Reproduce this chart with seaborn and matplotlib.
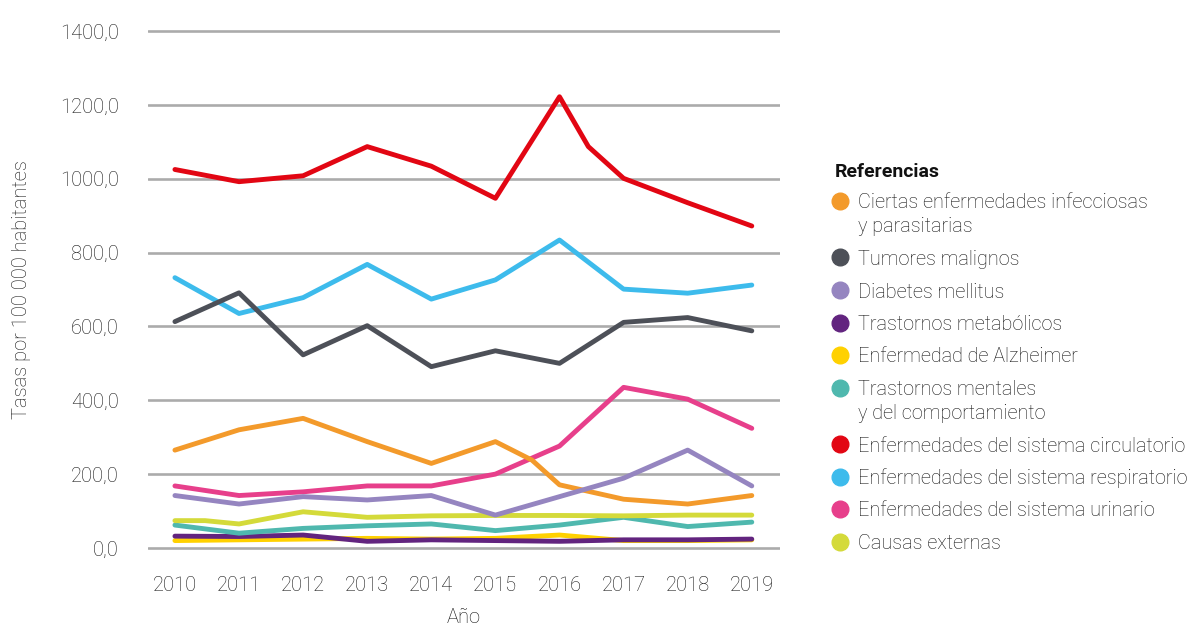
import matplotlib
matplotlib.use("Agg")
import matplotlib.pyplot as plt
import seaborn as sns
import pandas as pd

# ---------------- data ----------------
years = [2010, 2011, 2012, 2013, 2014, 2015, 2016, 2017, 2018, 2019]

series_names = [
    "Ciertas enfermedades infecciosas\ny parasitarias",
    "Tumores malignos",
    "Diabetes mellitus",
    "Trastornos metabólicos",
    "Enfermedad de Alzheimer",
    "Trastornos mentales\ny del comportamiento",
    "Enfermedades del sistema circulatorio",
    "Enfermedades del sistema respiratorio",
    "Enfermedades del sistema urinario",
    "Causas externas",
]

infecciosas = [265, 320, 351, 288, 229, 288, 171, 132, 119, 142]
tumores = [613, 691, 523, 602, 491, 534, 500, 611, 624, 588]
diabetes = [142, 119, 139, 130, 142, 89, 139, 189, 265, 168]
metabolicos = [32, 31, 35, 18, 22, 20, 18, 22, 22, 24]
alzheimer = [20, 22, 24, 26, 24, 26, 35, 20, 20, 22]
mentales = [62, 40, 53, 60, 65, 47, 62, 83, 58, 70]
circulatorio = [1025, 992, 1008, 1087, 1034, 947, 1222, 1001, 935, 872]
respiratorio = [732, 635, 678, 768, 674, 726, 834, 701, 690, 712]
urinario = [168, 142, 152, 168, 168, 200, 276, 435, 403, 324]
externas = [74, 65, 98, 83, 87, 88, 88, 87, 89, 89]

# intermediate vertices visible in the original lines
knot_series = [0, 6, 9]
knot_years = [2015.57, 2016.45, 2010.47]
knot_values = [238, 1087, 74]

colors = ["#F39A2B", "#4D5058", "#9585C0", "#62247F", "#FFD100",
          "#4FB8AE", "#E20613", "#3DBBEC", "#E73F8B", "#D4DA3A"]

y_ticks = [0, 200, 400, 600, 800, 1000, 1200, 1400]

# ---------------- table ----------------
all_values = [infecciosas, tumores, diabetes, metabolicos, alzheimer,
              mentales, circulatorio, respiratorio, urinario, externas]
rows = []
for name, vals in zip(series_names, all_values):
    for yr, v in zip(years, vals):
        rows.append({"Año": yr, "Tasa": v, "Serie": name})
for i, yr, v in zip(knot_series, knot_years, knot_values):
    rows.append({"Año": yr, "Tasa": v, "Serie": series_names[i]})
df = pd.DataFrame(rows).sort_values(["Serie", "Año"])

palette = dict(zip(series_names, colors))
draw_order = [series_names[i] for i in [4, 3, 5, 9, 8, 0, 2, 7, 1, 6]]

# ---------------- figure ----------------
sns.set_theme(style="white")
plt.rcParams["font.family"] = ["Roboto", "DejaVu Sans"]

W, H = 1202, 625
fig = plt.figure(figsize=(W / 100, H / 100), dpi=100)
ax_left, ax_right = 148, 780
ax_top, ax_bottom = 25.5, 553.5
ax = fig.add_axes([ax_left / W, 1 - ax_bottom / H,
                   (ax_right - ax_left) / W, (ax_bottom - ax_top) / H])

sns.lineplot(data=df, x="Año", y="Tasa", hue="Serie", hue_order=draw_order,
             palette=palette, estimator=None, sort=True, linewidth=3.5,
             legend=False, ax=ax, zorder=3)

ax.set_xlim(2009.58, 2019.44)
ax.set_ylim(-15, 1415)
ax.set_xticks(years)
ax.set_xticklabels([str(y) for y in years], fontweight="light")
ax.set_yticks(y_ticks)
ax.set_yticklabels([f"{v:.1f}".replace(".", ",") for v in y_ticks],
                   fontweight="light")

ax.grid(axis="y", color="#ababab", linewidth=1.9, zorder=0)
ax.grid(axis="x", visible=False)
for s in ax.spines.values():
    s.set_visible(False)

txt_color = "#141414"
ax.tick_params(axis="y", length=0, pad=21, labelsize=14.5, labelcolor=txt_color)
ax.tick_params(axis="x", length=0, pad=16, labelsize=14.5, labelcolor=txt_color)

ax.set_xlabel("Año", fontsize=14.5, color=txt_color, fontweight="light")
ax.set_ylabel("Tasas por 100 000 habitantes", fontsize=14.5, color=txt_color,
              fontweight="light")
ax.xaxis.set_label_coords(0.5, -0.103)
ax.yaxis.set_label_coords(-0.185, 0.5)

# ---------------- legend ----------------
fig.text(835 / W, 1 - 170 / H, "Referencias", fontsize=14, fontweight="bold",
         color="#111111", ha="left", va="center_baseline")
y = 201
for name, col in zip(series_names, colors):
    fig.lines.append(plt.Line2D([840 / W], [1 - y / H], marker="o",
                                markersize=12, color=col, linestyle="none",
                                transform=fig.transFigure))
    lines = name.split("\n")
    for k, line in enumerate(lines):
        fig.text(858 / W, 1 - (y + 24 * k) / H, line, fontsize=14.3,
                 color=txt_color, ha="left", va="center_baseline",
                 fontweight="light")
    y += 32.5 + 24 * (len(lines) - 1)

fig.savefig("out.png", dpi=100)
